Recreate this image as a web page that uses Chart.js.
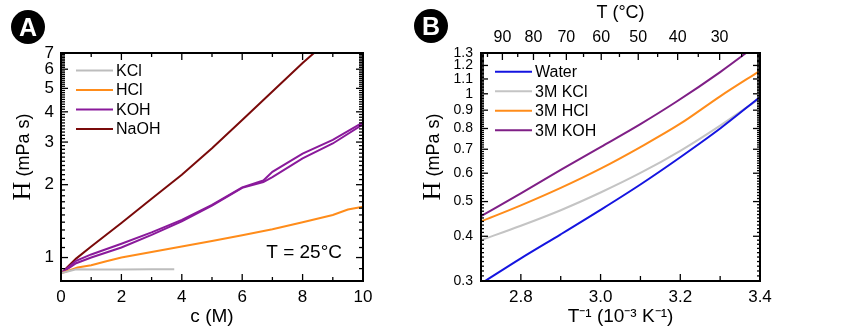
<!DOCTYPE html>
<html>
<head>
<meta charset="utf-8">
<script src="https://cdn.jsdelivr.net/npm/chart.js"></script>
<style>
  body { margin: 0; background: #fff; }
  #wrap { position: relative; width: 850px; height: 332px; }
  canvas { position: absolute; top: 0; }
  .badge {
    position: absolute; width: 34px; height: 34px; border-radius: 50%;
    background: #000; color: #fff; font: bold 25px "Liberation Sans", Arial, sans-serif;
    display: flex; align-items: center; justify-content: center; z-index: 2;
  }
</style>
</head>
<body>
<div id="wrap">
  <canvas id="chartA" width="415" height="332" style="left:0"></canvas>
  <canvas id="chartB" width="435" height="332" style="left:415px"></canvas>
  <div class="badge" style="left:11px;top:10px">A</div>
  <div class="badge" style="left:414px;top:9px">B</div>
</div>
<script>
// ---------- Panel A data (viscosity vs concentration, 25 C) ----------
const kclConc = [0, 0.5, 1, 2, 3, 3.75];
const kclVisc = [0.86, 0.895, 0.893, 0.893, 0.894, 0.895];
const hclConc = [0, 0.55, 1, 1.5, 2, 3, 4, 5, 6, 7, 8, 9, 9.5, 10];
const hclVisc = [0.86, 0.91, 0.93, 0.965, 1.0, 1.055, 1.11, 1.17, 1.235, 1.31, 1.4, 1.5, 1.58, 1.62];
const kohConc = [0, 0.5, 1, 2, 3, 4, 5, 6, 6.7, 7, 8, 9, 10];
const kohViscA = [0.86, 0.97, 1.03, 1.14, 1.27, 1.43, 1.65, 1.95, 2.08, 2.26, 2.69, 3.06, 3.62];
const kohViscB = [0.86, 0.947, 1.0, 1.10, 1.24, 1.41, 1.64, 1.94, 2.05, 2.15, 2.57, 2.96, 3.55];
const naohConc = [0, 0.5, 1, 2, 3, 4, 5, 6, 7, 8, 8.6];
const naohVisc = [0.86, 0.99, 1.11, 1.39, 1.75, 2.20, 2.83, 3.70, 4.85, 6.37, 7.4];
const ticksA_x = [0, 2, 4, 6, 8, 10];
const ticksA_y = [1, 2, 3, 4, 5, 6, 7];

// ---------- Panel B data (viscosity vs 1/T) ----------
const invT = [2.7, 2.8, 2.9, 3.0, 3.1, 3.2, 3.3, 3.4];
const waterVisc = [0.295, 0.347, 0.405, 0.474, 0.558, 0.665, 0.80, 0.98];
const kcl3Visc = [0.39, 0.428, 0.473, 0.53, 0.601, 0.693, 0.815, 0.972];
const hcl3Visc = [0.44, 0.488, 0.546, 0.618, 0.71, 0.825, 0.984, 1.16];
const koh3InvT = [2.7, 2.8, 2.9, 3.0, 3.1, 3.19, 3.3, 3.4];
const koh3Visc = [0.455, 0.527, 0.613, 0.71, 0.823, 0.95, 1.15, 1.39];
const ticksB_x = [2.8, 3.0, 3.2, 3.4];
const ticksB_y = [0.3, 0.4, 0.5, 0.6, 0.7, 0.8, 0.9, 1, 1.1, 1.2, 1.3];
const topTempC = [90, 80, 70, 60, 50, 40, 30];

const FONT = '"Liberation Sans", Arial, sans-serif';
const pts = (xs, ys) => xs.map((x, i) => ({x: x, y: ys[i]}));
const r2 = v => Math.round(v * 1000) / 1000;
const cToInv = t => 1000 / (t + 273.15);

function series(label, xs, ys, color, extra) {
    return Object.assign({
        label: label,
        data: pts(xs, ys),
        borderColor: color,
        backgroundColor: color,
        borderWidth: 2,
        pointRadius: 0,
        fill: false,
        clip: 0
    }, extra || {});
}

// inward ticks, frame, legend, y title, note
function makeDecor(cfg) {
    return {
        id: 'decor',
        afterDraw(chart) {
            const {ctx, chartArea: a} = chart;
            const xs = chart.scales.x, ys = chart.scales.y;
            const seg = (x1, y1, x2, y2) => { ctx.beginPath(); ctx.moveTo(x1, y1); ctx.lineTo(x2, y2); ctx.stroke(); };
            ctx.save();
            ctx.strokeStyle = '#000';
            ctx.lineWidth = 1.3;
            cfg.xTicks.forEach(t => {
                const p = xs.getPixelForValue(t[0]);
                seg(p, a.bottom, p, a.bottom - t[1]);
            });
            cfg.topTicks.forEach(t => {
                const p = xs.getPixelForValue(t[0]);
                seg(p, a.top, p, a.top + t[1]);
            });
            cfg.yTicks.forEach(t => {
                const p = ys.getPixelForValue(t[0]);
                seg(a.left, p, a.left + t[1], p);
                seg(a.right, p, a.right - t[1], p);
            });
            ctx.lineWidth = 2;
            ctx.strokeRect(a.left, a.top, a.right - a.left, a.bottom - a.top);

            // legend
            ctx.font = '16px ' + FONT;
            ctx.textBaseline = 'middle';
            ctx.textAlign = 'left';
            cfg.legend.forEach((it, i) => {
                const y = a.top + cfg.legTop + i * 19.5;
                ctx.strokeStyle = it.color;
                ctx.lineWidth = 2;
                seg(a.left + cfg.legX, y, a.left + cfg.legX + 37, y);
                ctx.fillStyle = '#000';
                ctx.fillText(it.label, a.left + cfg.legX + 40, y + 1);
            });

            // y axis title: serif eta-like H + sans units
            ctx.save();
            ctx.translate(cfg.yTitleX, 157);
            ctx.rotate(-Math.PI / 2);
            ctx.textBaseline = 'alphabetic';
            ctx.fillStyle = '#000';
            ctx.font = '26px "Liberation Serif", serif';
            const w1 = ctx.measureText('H').width;
            ctx.font = '18px ' + FONT;
            const rest = ' (mPa s)';
            const w2 = ctx.measureText(rest).width;
            let x0 = -(w1 + w2) / 2;
            ctx.font = '26px "Liberation Serif", serif';
            ctx.fillText('H', x0, 0);
            ctx.font = '18px ' + FONT;
            ctx.fillText(rest, x0 + w1, -1);
            ctx.restore();

            if (cfg.note) {
                ctx.font = '19px ' + FONT;
                ctx.fillStyle = '#000';
                ctx.textAlign = 'right';
                ctx.textBaseline = 'middle';
                ctx.fillText(cfg.note, a.right - 21, a.bottom - 28);
            }
            ctx.restore();
        }
    };
}

function stepList(from, to, step, skip) {
    const out = [];
    for (let v = from; v <= to + 1e-9; v += step) {
        const r = r2(v);
        if (!skip.some(s => Math.abs(s - r) < 1e-6)) out.push(r);
    }
    return out;
}

// ---------- Chart A ----------
const chartA = document.getElementById('chartA');
new Chart(chartA, {
    type: 'line',
    data: {
        datasets: [
            series('KCl', kclConc, kclVisc, '#bdbdbd'),
            series('HCl', hclConc, hclVisc, '#ff8c1a'),
            series('KOH', kohConc, kohViscA, '#8a1a9b'),
            series('KOH', kohConc, kohViscB, '#8a1a9b'),
            series('NaOH', naohConc, naohVisc, '#7a0a0a')
        ]
    },
    options: {
        responsive: false,
        animation: false,
        devicePixelRatio: 1,
        layout: { padding: { top: 53, right: 52, left: 0, bottom: 0 } },
        plugins: { legend: { display: false }, tooltip: { enabled: false } },
        scales: {
            x: {
                type: 'linear', min: 0, max: 10,
                afterBuildTicks: s => { s.ticks = ticksA_x.map(v => ({value: v})); },
                afterFit: s => { s.height = 51; },
                grid: { display: false, drawTicks: false },
                border: { display: false },
                ticks: { font: { size: 17, family: FONT }, color: '#000', padding: 6 },
                title: { display: true, text: 'c (M)', font: { size: 19, family: FONT }, color: '#000', padding: { top: 0 } }
            },
            y: {
                type: 'logarithmic', min: 0.8, max: 7,
                afterBuildTicks: s => { s.ticks = ticksA_y.map(v => ({value: v})); },
                afterFit: s => { s.width = 61; },
                grid: { display: false, drawTicks: false },
                border: { display: false },
                ticks: { font: { size: 17, family: FONT }, color: '#000', padding: 7, autoSkip: false,
                         callback: v => String(v) }
            }
        }
    },
    plugins: [makeDecor({
        xTicks: ticksA_x.map(v => [v, 7]).concat([1, 3, 5, 7, 9].map(v => [v, 4])),
        topTicks: ticksA_x.map(v => [v, 7]).concat([1, 3, 5, 7, 9].map(v => [v, 4])),
        yTicks: ticksA_y.map(v => [v, 7]).concat(stepList(0.8, 7, 0.1, ticksA_y).map(v => [v, 4])),
        legend: [
            {label: 'KCl', color: '#bdbdbd'},
            {label: 'HCl', color: '#ff8c1a'},
            {label: 'KOH', color: '#8a1a9b'},
            {label: 'NaOH', color: '#7a0a0a'}
        ],
        legX: 15, legTop: 17.5,
        yTitleX: 30,
        note: 'T = 25°C'
    })]
});

// ---------- Chart B ----------
const chartB = document.getElementById('chartB');
const smooth = { cubicInterpolationMode: 'monotone' };
new Chart(chartB, {
    type: 'line',
    data: {
        datasets: [
            series('Water', invT, waterVisc, '#1414e0', smooth),
            series('3M KCl', invT, kcl3Visc, '#c4c4c4', smooth),
            series('3M HCl', invT, hcl3Visc, '#ff8c1a', smooth),
            series('3M KOH', koh3InvT, koh3Visc, '#7f1f86', smooth)
        ]
    },
    options: {
        responsive: false,
        animation: false,
        devicePixelRatio: 1,
        layout: { padding: { top: 0, right: 90, left: 0, bottom: 0 } },
        plugins: { legend: { display: false }, tooltip: { enabled: false } },
        scales: {
            x: {
                type: 'linear', min: 2.7, max: 3.4,
                afterBuildTicks: s => { s.ticks = ticksB_x.map(v => ({value: v})); },
                afterFit: s => { s.height = 51; },
                grid: { display: false, drawTicks: false },
                border: { display: false },
                ticks: { font: { size: 17, family: FONT }, color: '#000', padding: 6,
                         callback: v => v.toFixed(1) },
                title: { display: true, text: 'T⁻¹ (10⁻³ K⁻¹)', font: { size: 19, family: FONT }, color: '#000', padding: { top: 0 } }
            },
            xTop: {
                type: 'linear', position: 'top', min: 2.7, max: 3.4,
                afterBuildTicks: s => { s.ticks = topTempC.map(t => ({value: cToInv(t)})); },
                afterFit: s => { s.height = 53; },
                grid: { display: false, drawTicks: false },
                border: { display: false },
                ticks: { font: { size: 16, family: FONT }, color: '#000', padding: 6, autoSkip: false,
                         maxRotation: 0, callback: (v, i) => String(topTempC[i]) },
                title: { display: true, text: 'T (°C)', font: { size: 18, family: FONT }, color: '#000', padding: { top: 2, bottom: 0 } }
            },
            y: {
                type: 'logarithmic', min: 0.3, max: 1.3,
                afterBuildTicks: s => { s.ticks = ticksB_y.map(v => ({value: v})); },
                afterFit: s => { s.width = 66; },
                grid: { display: false, drawTicks: false },
                border: { display: false },
                ticks: { font: { size: 14, family: FONT }, color: '#000', padding: 8, autoSkip: false,
                         callback: v => String(v) }
            }
        }
    },
    plugins: [makeDecor({
        xTicks: ticksB_x.map(v => [v, 7]).concat([2.9, 3.1, 3.3].map(v => [v, 5])),
        topTicks: topTempC.map(t => [cToInv(t), 7]).concat([95, 85, 75, 65, 55, 45, 35, 25].map(t => [cToInv(t), 4])),
        yTicks: ticksB_y.map(v => [v, 7]).concat(stepList(0.3, 1.3, 0.01, ticksB_y).map(v => [v, 3])),
        legend: [
            {label: 'Water', color: '#1414e0'},
            {label: '3M KCl', color: '#c4c4c4'},
            {label: '3M HCl', color: '#ff8c1a'},
            {label: '3M KOH', color: '#7f1f86'}
        ],
        legX: 14, legTop: 18.7,
        yTitleX: 25,
        note: null
    })]
});
</script>
</body>
</html>
